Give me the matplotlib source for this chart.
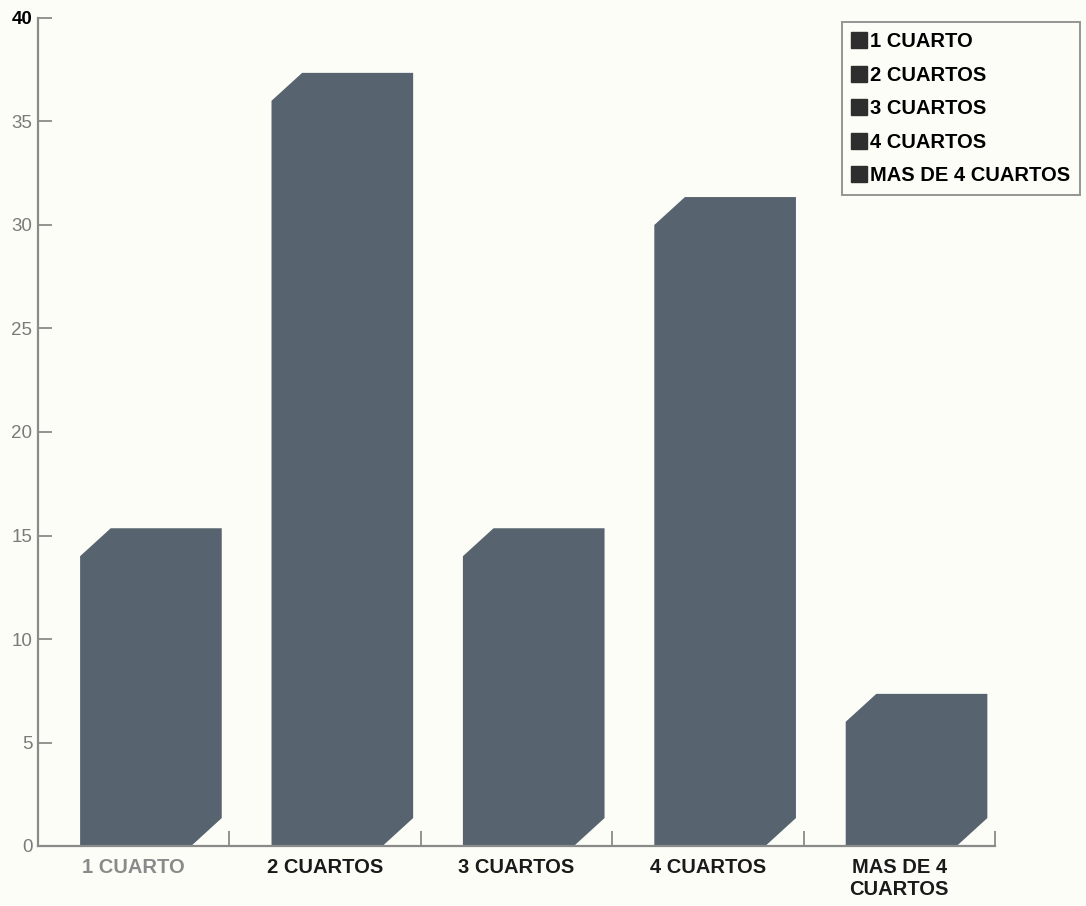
import matplotlib
matplotlib.use("Agg")
import matplotlib.pyplot as plt
from matplotlib.patches import Polygon
from matplotlib.lines import Line2D

plt.rcParams['font.family'] = ['Liberation Sans', 'DejaVu Sans']

# Data
categories = ["1 CUARTO", "2 CUARTOS", "3 CUARTOS", "4 CUARTOS", "MAS DE 4\nCUARTOS"]
legend_labels = ["1 CUARTO", "2 CUARTOS", "3 CUARTOS", "4 CUARTOS", "MAS DE 4 CUARTOS"]
values = [14, 36, 14, 30, 6]
y_ticks = [0, 5, 10, 15, 20, 25, 30, 35, 40]

bar_color = "#57636f"
bg = "#fdfdf7"

fig = plt.figure(figsize=(10.86, 9.06), dpi=100, facecolor=bg)
ax = fig.add_axes([38 / 1086, 60 / 906, (995 - 38) / 1086, 828 / 906])
ax.set_facecolor(bg)

# prism geometry (data units)
left_off, right_off = -0.28, 0.30
depth_x, depth_y = 0.16, 1.35

for i, v in enumerate(values):
    x0, x1 = i + left_off, i + right_off
    pts = [(x0, 0), (x0, v), (x0 + depth_x, v + depth_y),
           (x1 + depth_x, v + depth_y), (x1 + depth_x, depth_y), (x1, 0)]
    ax.add_patch(Polygon(pts, closed=True, facecolor=bar_color,
                         edgecolor="none", zorder=2))

ax.set_xlim(-0.5, len(categories) - 0.5)
ax.set_ylim(0, 40)

for s in ["top", "right"]:
    ax.spines[s].set_visible(False)
for s in ["left", "bottom"]:
    ax.spines[s].set_color("#8a8a8a")
    ax.spines[s].set_linewidth(1.6)
    ax.spines[s].set_zorder(3)

# y axis ticks
ax.set_yticks(y_ticks)
ax.set_yticklabels([str(t) for t in y_ticks])
ax.tick_params(axis="y", direction="in", length=10, width=1.3, color="#8a8a8a",
               pad=4, labelsize=13.5)
for lab in ax.get_yticklabels():
    if lab.get_text() == "40":
        lab.set_color("black")
        lab.set_fontweight("bold")
    else:
        lab.set_color("#7a7a7a")

# x axis: boundary ticks, centred labels
ax.set_xticks([i + 0.5 for i in range(len(categories))])
ax.set_xticklabels([])
ax.tick_params(axis="x", direction="in", length=11, width=1.3, color="#8a8a8a")
for i, c in enumerate(categories):
    ax.text(i, -0.6, c, ha="center", va="top", fontsize=14.5, fontweight="bold",
            color="#8a8a8a" if i == 0 else "#1a1a1a", linespacing=1.15,
            transform=ax.transData, clip_on=False)

handles = [Line2D([], [], marker="s", linestyle="none", markersize=11,
                  markerfacecolor="#2e2e2e", markeredgecolor="#2e2e2e")
           for _ in legend_labels]
leg = fig.legend(handles, legend_labels, loc="upper right",
                 bbox_to_anchor=(1080 / 1086, 1 - 22 / 906), borderaxespad=0,
                 frameon=True, fancybox=False, handlelength=0.7, handletextpad=0.2,
                 labelspacing=0.72, borderpad=0.5,
                 prop={"weight": "bold", "size": 14.5})
leg.get_frame().set_edgecolor("#7a7a7a")
leg.get_frame().set_linewidth(1.4)
leg.get_frame().set_facecolor(bg)

fig.savefig("out.png", dpi=100, facecolor=bg)
